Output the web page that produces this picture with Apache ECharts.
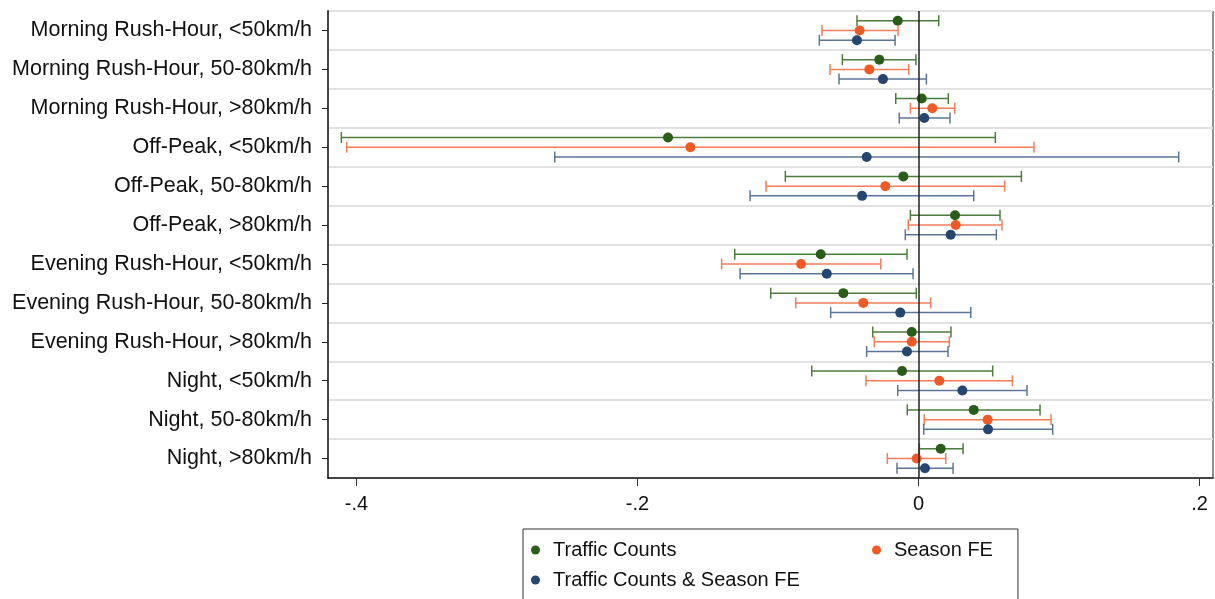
<!DOCTYPE html>
<html lang="en">
<head>
    <meta charset="UTF-8">
    <title>Coefficient plot</title>
    <script src="https://cdn.jsdelivr.net/npm/echarts@6/dist/echarts.min.js"></script>
    <style>
        * { margin: 0; padding: 0 }
        html, body { width: 100%; height: 100%; background: #fff }
        #main { width: 1215px; height: 599px }
    </style>
</head>
<body>
    <div id="main"></div>
    <script type="text/javascript">
        var categories = [
            'Morning Rush-Hour, <50km/h',
            'Morning Rush-Hour, 50-80km/h',
            'Morning Rush-Hour, >80km/h',
            'Off-Peak, <50km/h',
            'Off-Peak, 50-80km/h',
            'Off-Peak, >80km/h',
            'Evening Rush-Hour, <50km/h',
            'Evening Rush-Hour, 50-80km/h',
            'Evening Rush-Hour, >80km/h',
            'Night, <50km/h',
            'Night, 50-80km/h',
            'Night, >80km/h'
        ];

        // Traffic Counts
        var countsEst = [-0.0148, -0.0279, 0.0023, -0.1783, -0.0108, 0.0260, -0.0696, -0.0535, -0.0048, -0.0117, 0.0393, 0.0158];
        var countsLo  = [-0.0438, -0.0542, -0.0162, -0.4108, -0.0948, -0.0058, -0.1308, -0.1052, -0.0326, -0.0760, -0.0080, 0.0006];
        var countsHi  = [0.0144, -0.0018, 0.0212, 0.0547, 0.0732, 0.0580, -0.0082, -0.0016, 0.0231, 0.0528, 0.0865, 0.0317];

        // Season FE
        var seasonEst = [-0.0419, -0.0350, 0.0098, -0.1624, -0.0236, 0.0265, -0.0836, -0.0393, -0.0048, 0.0148, 0.0492, -0.0013];
        var seasonLo  = [-0.0687, -0.0630, -0.0058, -0.4070, -0.1085, -0.0073, -0.1401, -0.0874, -0.0315, -0.0374, 0.0041, -0.0222];
        var seasonHi  = [-0.0146, -0.0070, 0.0258, 0.0822, 0.0613, 0.0594, -0.0269, 0.0087, 0.0219, 0.0668, 0.0943, 0.0194];

        // Traffic Counts & Season FE
        var bothEst = [-0.0438, -0.0253, 0.0041, -0.0369, -0.0402, 0.0229, -0.0653, -0.0130, -0.0082, 0.0312, 0.0495, 0.0046];
        var bothLo  = [-0.0706, -0.0566, -0.0137, -0.2589, -0.1199, -0.0094, -0.1270, -0.0625, -0.0369, -0.0148, 0.0037, -0.0153];
        var bothHi  = [-0.0167, 0.0056, 0.0224, 0.1852, 0.0393, 0.0554, -0.0039, 0.0372, 0.0210, 0.0772, 0.0955, 0.0246];

        var xTicks = [-0.4, -0.2, 0, 0.2];
        var xTickLabels = ['-.4', '-.2', '0', '.2'];

        var font = '"Liberation Sans", Arial, sans-serif';

        function ciSeries(name, est, lo, hi, dotColor, barColor, shift) {
            return {
                name: name,
                type: 'custom',
                z: 3,
                itemStyle: { color: dotColor },
                encode: { x: [0, 1, 2], y: 3 },
                data: est.map(function (v, i) { return [v, lo[i], hi[i], i]; }),
                renderItem: function (params, api) {
                    var row = api.value(3);
                    var c = api.coord([api.value(0), row]);
                    var l = api.coord([api.value(1), row]);
                    var h = api.coord([api.value(2), row]);
                    var y = c[1] + shift * api.size([0, 1])[1];
                    var cap = 5.5;
                    var st = { stroke: barColor, lineWidth: 1.5 };
                    return {
                        type: 'group',
                        children: [
                            { type: 'line', shape: { x1: l[0], y1: y, x2: h[0], y2: y }, style: st },
                            { type: 'line', shape: { x1: l[0], y1: y - cap, x2: l[0], y2: y + cap }, style: st },
                            { type: 'line', shape: { x1: h[0], y1: y - cap, x2: h[0], y2: y + cap }, style: st },
                            { type: 'circle', shape: { cx: c[0], cy: y, r: 5 }, style: { fill: dotColor } }
                        ]
                    };
                }
            };
        }

        var myChart = echarts.init(document.getElementById('main'));
        var option = {
            animation: false,
            backgroundColor: '#fff',
            textStyle: { fontFamily: font },
            grid: {
                left: 328, right: 2, top: 11, bottom: 121,
                show: true, borderColor: '#222', borderWidth: 1
            },
            xAxis: {
                type: 'value',
                min: -0.4203,
                max: 0.2096,
                axisLine: { show: true, onZero: false, lineStyle: { color: '#111', width: 1.5 } },
                axisTick: { show: true, customValues: xTicks, length: 8, lineStyle: { color: '#333' } },
                axisLabel: {
                    customValues: xTicks,
                    fontSize: 20, color: '#111', margin: 16,
                    formatter: function (v) {
                        var k = xTicks.findIndex(function (t) { return Math.abs(t - v) < 1e-9; });
                        return k < 0 ? '' : xTickLabels[k];
                    }
                },
                splitLine: { show: false }
            },
            yAxis: {
                type: 'category',
                data: categories,
                inverse: true,
                boundaryGap: true,
                axisLine: { show: true, onZero: false, lineStyle: { color: '#444', width: 2 } },
                axisTick: { show: true, alignWithLabel: true, length: 6, lineStyle: { color: '#222' } },
                axisLabel: { fontSize: 21.5, color: '#111', margin: 16 },
                splitLine: { show: true, lineStyle: { color: '#e2e2e2', width: 2 } }
            },
            legend: {
                data: ['Traffic Counts', 'Season FE', 'Traffic Counts & Season FE'],
                left: 523,
                top: 529,
                width: 480,
                padding: [11, 25, 11, 8],
                itemGap: 10,
                itemWidth: 9,
                itemHeight: 9,
                icon: 'circle',
                borderColor: '#333',
                borderWidth: 1,
                backgroundColor: '#fff',
                textStyle: {
                    fontSize: 20, color: '#111', lineHeight: 20,
                    rich: {
                        w: { width: 309, fontSize: 20, padding: [0, 0, 0, 8] },
                        n: { fontSize: 20, padding: [0, 0, 0, 8] }
                    }
                },
                formatter: function (name) {
                    return name === 'Traffic Counts' ? '{w|' + name + '}' : '{n|' + name + '}';
                }
            },
            series: [
                {
                    name: 'zero',
                    type: 'line',
                    data: [],
                    z: 1,
                    markLine: {
                        silent: true,
                        symbol: 'none',
                        label: { show: false },
                        lineStyle: { color: '#222', width: 1.5, type: 'solid' },
                        data: [{ xAxis: 0 }]
                    }
                },
                ciSeries('Traffic Counts', countsEst, countsLo, countsHi, '#2b5c1a', '#4d7d3d', -0.25),
                ciSeries('Season FE', seasonEst, seasonLo, seasonHi, '#f05a26', '#f27e57', 0),
                ciSeries('Traffic Counts & Season FE', bothEst, bothLo, bothHi, '#26466f', '#5b7697', 0.25)
            ]
        };
        myChart.setOption(option);
    </script>
</body>
</html>
